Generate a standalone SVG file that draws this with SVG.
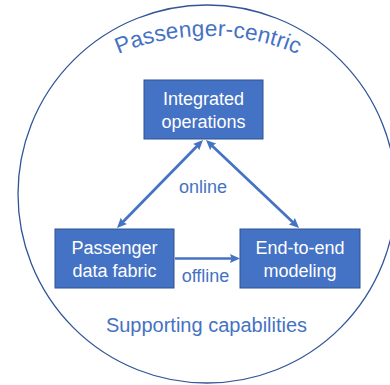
<svg xmlns="http://www.w3.org/2000/svg" width="390" height="385" viewBox="0 0 390 385">
  <style>
    .box { fill: #4472C4; stroke: #2F528F; stroke-width: 1; }
    .box-text { fill: #FFFFFF; font-family: "Liberation Sans", Arial, sans-serif; font-size: 18px; text-anchor: middle; }
    .label { fill: #4472C4; font-family: "Liberation Sans", Arial, sans-serif; font-size: 18px; text-anchor: middle; }
    .title { fill: #4472C4; font-family: "Liberation Sans", Arial, sans-serif; font-size: 20px; }
    .heading { fill: #4472C4; font-family: "Liberation Sans", Arial, sans-serif; font-size: 22.5px; }
    .link { stroke: #4472C4; stroke-width: 2.7; fill: none; }
  </style>
  <defs>
    <marker id="head" markerUnits="userSpaceOnUse" viewBox="0 0 10 9" markerWidth="10" markerHeight="9" refX="2" refY="4.5" orient="auto-start-reverse">
      <path d="M0,0 L10,4.5 L0,9 L1.5,4.5 Z" fill="#4472C4"/>
    </marker>
    <!-- baseline arc for the heading: centre (208,266), radius 230 -->
    <path id="arch" d="M 58 91.6 A 230 230 0 0 1 358 91.6"/>
  </defs>

  <!-- outer boundary -->
  <circle cx="207" cy="194" r="189" fill="none" stroke="#2F5597" stroke-width="1.3"/>

  <!-- arched heading -->
  <text class="heading">
    <textPath href="#arch" startOffset="50%" text-anchor="middle" textLength="184" lengthAdjust="spacing">Passenger-centric</textPath>
  </text>

  <!-- connectors -->
  <g id="connectors">
    <line class="link" x1="197.4" y1="145.7" x2="122.6" y2="222.3" marker-start="url(#head)" marker-end="url(#head)"/>
    <line class="link" x1="211.8" y1="145.5" x2="293.2" y2="222.5" marker-start="url(#head)" marker-end="url(#head)"/>
    <line class="link" x1="175" y1="258.5" x2="232" y2="258.5" marker-end="url(#head)"/>
    <text class="label" x="203" y="193">online</text>
    <text class="label" x="205.5" y="282">offline</text>
  </g>

  <g id="integrated-operations">
    <rect class="box" x="144" y="80" width="119" height="59"/>
    <text class="box-text" x="203.5" y="105">Integrated</text>
    <text class="box-text" x="203.5" y="128">operations</text>
  </g>

  <g id="passenger-data-fabric">
    <rect class="box" x="55" y="229" width="119" height="59"/>
    <text class="box-text" x="114.5" y="254">Passenger</text>
    <text class="box-text" x="114.5" y="277">data fabric</text>
  </g>

  <g id="end-to-end-modeling">
    <rect class="box" x="240" y="229" width="120" height="59"/>
    <text class="box-text" x="300" y="254">End-to-end</text>
    <text class="box-text" x="300" y="277">modeling</text>
  </g>

  <text class="title" x="206.5" y="332" text-anchor="middle">Supporting capabilities</text>
</svg>
